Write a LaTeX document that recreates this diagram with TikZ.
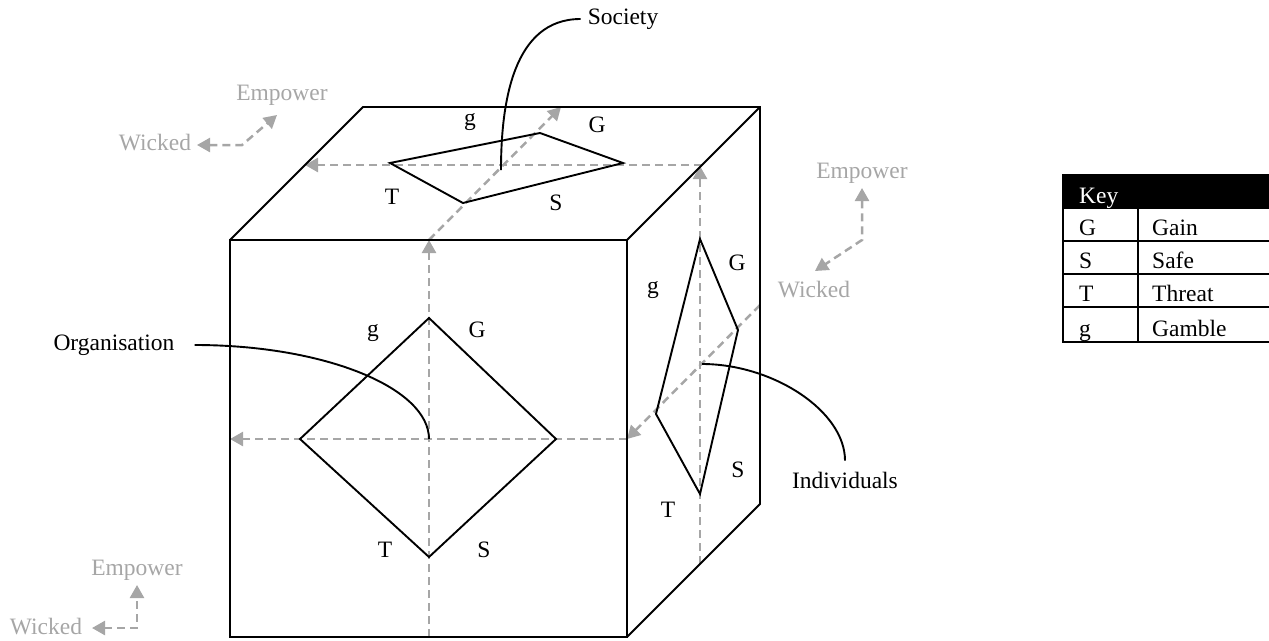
\documentclass[tikz,border=0pt]{standalone}
\usepackage{fontspec}
\setmainfont{Liberation Serif}
\usetikzlibrary{arrows.meta}
\definecolor{axisgrey}{HTML}{A6A6A6}
\begin{document}
\begin{tikzpicture}[x=1pt,y=-1pt,
  edge/.style={line width=1.9pt, line join=miter},
  axis/.style={draw=axisgrey, line width=2.5pt, dash pattern=on 8pt off 5pt, -{Triangle[length=13pt,width=14pt]}},
  biaxis/.style={draw=axisgrey, line width=2.5pt, dash pattern=on 8pt off 5pt, {Triangle[length=13pt,width=14pt]}-{Triangle[length=13pt,width=14pt]}},
  lbl/.style={font=\fontsize{23.5pt}{28pt}\selectfont, inner sep=0pt},
  glbl/.style={lbl, text=axisgrey},
  keytxt/.style={lbl, anchor=base west},
  conn/.style={line width=1.9pt},
  tbl/.style={line width=2pt}
]
\useasboundingbox (0,0) rectangle (1269,640);

% cube corners
\coordinate (fA) at (230,240);
\coordinate (fB) at (627,240);
\coordinate (fC) at (627,637);
\coordinate (fD) at (230,637);
\coordinate (bA) at (363,107);
\coordinate (bB) at (760,107);
\coordinate (bC) at (760,504);

% axis end points
\coordinate (fvS) at (429,637);
\coordinate (fvE) at (429,240);
\coordinate (fhS) at (627,439);
\coordinate (fhE) at (230,439);
\coordinate (rvS) at (700,564);
\coordinate (rvE) at (700,166);
\coordinate (rdS) at (760,305);
\coordinate (rdE) at (627,439);
\coordinate (thS) at (702,165);
\coordinate (thE) at (305,165);
\coordinate (tdS) at (429,240);
\coordinate (tdE) at (561,107);

% dashed axes
\draw[axis] (fvS) -- (fvE);
\draw[axis] (fhS) -- (fhE);
\draw[axis] (rvS) -- (rvE);
\draw[axis] (rdS) -- (rdE);
\draw[axis] (thS) -- (thE);
\draw[axis] (tdS) -- (tdE);

% cube
\draw[edge] (fA) -- (fB) -- (fC) -- (fD) -- cycle;
\draw[edge] (fA) -- (bA) -- (bB) -- (bC) -- (fC);
\draw[edge] (fB) -- (bB);

% diamonds
\coordinate (d1t) at (429,318);
\coordinate (d1r) at (556,439);
\coordinate (d1b) at (429,557);
\coordinate (d1l) at (300,439);
\draw[edge] (d1t) -- (d1r) -- (d1b) -- (d1l) -- cycle;

\coordinate (d2l) at (390,163);
\coordinate (d2t) at (540,133);
\coordinate (d2r) at (623,163);
\coordinate (d2b) at (463,203);
\draw[edge] (d2l) -- (d2t) -- (d2r) -- (d2b) -- cycle;

\coordinate (d3t) at (700,239);
\coordinate (d3r) at (738,330);
\coordinate (d3b) at (700,494);
\coordinate (d3l) at (656,414);
\draw[edge] (d3t) -- (d3r) -- (d3b) -- (d3l) -- cycle;

% diamond labels
\node[lbl] (f-g) at (373,333) {g};
\node[lbl] (f-G) at (477,330) {G};
\node[lbl] (f-T) at (385,550) {T};
\node[lbl] (f-S) at (484,550) {S};

\node[lbl] (t-g) at (470,122) {g};
\node[lbl] (t-G) at (597,125) {G};
\node[lbl] (t-T) at (392,197) {T};
\node[lbl] (t-S) at (556,203) {S};

\node[lbl] (r-g) at (653,290) {g};
\node[lbl] (r-G) at (737,263) {G};
\node[lbl] (r-S) at (738,470) {S};
\node[lbl] (r-T) at (668,510) {T};

% callouts
\node[lbl] (soc) at (623,19) {Society};
\coordinate (socEnd) at (501,170);
\draw[conn] ([xshift=-7pt]soc.west) .. controls (513,19) and (501,103) .. (socEnd);

\node[lbl] (org) at (114,345) {Organisation};
\coordinate (orgEnd) at (429,439);
\draw[conn] ([xshift=20pt]org.east) .. controls (325,345) and (429,388) .. (orgEnd);

\node[lbl] (ind) at (845,480) {Individuals};
\coordinate (indEnd) at (702,364);
\draw[conn] ([yshift=11pt]ind.north) .. controls (845,411) and (773,364) .. (indEnd);

% Empower / Wicked indicators
\node[glbl] (emp1) at (282,95) {Empower};
\node[glbl] (wik1) at (155,143) {Wicked};
\coordinate (w1) at (197,145);
\coordinate (c1) at (242,145);
\coordinate (e1) at (277,115);
\draw[biaxis] (w1) -- (c1) -- (e1);

\node[glbl] (emp2) at (862,173) {Empower};
\node[glbl] (wik2) at (814,290) {Wicked};
\coordinate (e2) at (862,188);
\coordinate (c2) at (862,240);
\coordinate (w2) at (815,271);
\draw[biaxis] (e2) -- (c2) -- (w2);

\node[glbl] (emp3) at (137,570) {Empower};
\node[glbl] (wik3) at (46,627) {Wicked};
\coordinate (w3) at (92,628);
\coordinate (c3) at (137,628);
\coordinate (e3) at (137,585);
\draw[biaxis] (w3) -- (c3) -- (e3);

% key table
\fill (1062,174) rectangle (1272,209);
\draw[tbl] (1063,209) -- (1063,342) -- (1272,342);
\draw[tbl] (1063,241) -- (1272,241);
\draw[tbl] (1063,274) -- (1272,274);
\draw[tbl] (1063,307) -- (1272,307);
\draw[tbl] (1138,209) -- (1138,342);
\node[keytxt, text=white] (kKey) at (1079,203) {Key};
\node[keytxt] (kG) at (1079,235) {G};
\node[keytxt] (kGain) at (1152,235) {Gain};
\node[keytxt] (kS) at (1079,268) {S};
\node[keytxt] (kSafe) at (1152,268) {Safe};
\node[keytxt] (kT) at (1079,301) {T};
\node[keytxt] (kThreat) at (1152,301) {Threat};
\node[keytxt] (kg) at (1079,336) {g};
\node[keytxt] (kGamble) at (1152,336) {Gamble};
\end{tikzpicture}
\end{document}
